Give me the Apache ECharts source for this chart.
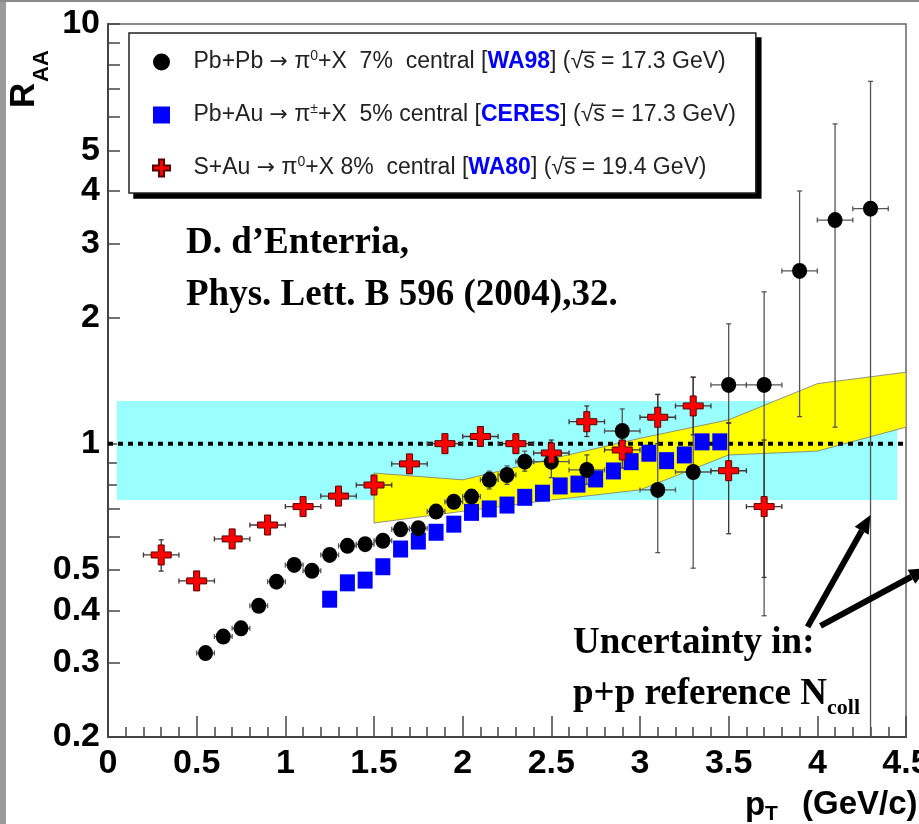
<!DOCTYPE html>
<html>
<head>
<meta charset="utf-8">
<script src="https://cdn.jsdelivr.net/npm/echarts@6/dist/echarts.min.js"></script>
<style>
  html, body { margin: 0; padding: 0; background: #fff; }
  #chart { width: 919px; height: 824px; }
</style>
</head>
<body>
<div id="chart"></div>
<script>
// WA98 Pb+Pb -> pi0 (black circles)
const wa98Pt    = [0.55, 0.65, 0.75, 0.85, 0.95, 1.05, 1.15, 1.25, 1.35, 1.45, 1.55, 1.65, 1.75, 1.85, 1.95, 2.05, 2.15, 2.25, 2.35, 2.5, 2.7, 2.9, 3.1, 3.3, 3.5, 3.7, 3.9, 4.1, 4.3];
const wa98Raa   = [0.317, 0.347, 0.363, 0.411, 0.469, 0.514, 0.498, 0.543, 0.571, 0.576, 0.587, 0.625, 0.629, 0.689, 0.727, 0.748, 0.82, 0.842, 0.906, 0.906, 0.866, 1.072, 0.776, 0.856, 1.38, 1.38, 2.58, 3.41, 3.63];
const wa98Lo    = [0.31, 0.34, 0.355, 0.40, 0.46, 0.50, 0.485, 0.53, 0.555, 0.56, 0.57, 0.61, 0.61, 0.67, 0.705, 0.725, 0.78, 0.80, 0.86, 0.83, 0.80, 0.95, 0.55, 0.505, 1.12, 0.389, 1.16, 1.095, 0.1];
const wa98Hi    = [0.325, 0.355, 0.372, 0.42, 0.48, 0.528, 0.512, 0.556, 0.587, 0.592, 0.604, 0.64, 0.648, 0.71, 0.75, 0.77, 0.86, 0.885, 0.96, 0.98, 0.94, 1.21, 1.31, 1.44, 1.93, 2.30, 4.0, 5.78, 7.3];
const wa98PtErr = [0.05, 0.05, 0.05, 0.05, 0.05, 0.05, 0.05, 0.05, 0.05, 0.05, 0.05, 0.05, 0.05, 0.05, 0.05, 0.05, 0.05, 0.05, 0.05, 0.1, 0.1, 0.1, 0.1, 0.1, 0.1, 0.1, 0.1, 0.1, 0.1];

// CERES Pb+Au -> pi+- (blue squares)
const ceresPt  = [1.25, 1.35, 1.45, 1.55, 1.65, 1.75, 1.85, 1.95, 2.05, 2.15, 2.25, 2.35, 2.45, 2.55, 2.65, 2.75, 2.85, 2.95, 3.05, 3.15, 3.25, 3.35, 3.45];
const ceresRaa = [0.426, 0.466, 0.473, 0.509, 0.561, 0.586, 0.615, 0.643, 0.686, 0.699, 0.714, 0.745, 0.762, 0.793, 0.801, 0.824, 0.861, 0.906, 0.949, 0.911, 0.94, 1.01, 1.01];

// WA80 S+Au -> pi0 (red crosses)
const wa80Pt    = [0.3, 0.5, 0.7, 0.9, 1.1, 1.3, 1.5, 1.7, 1.9, 2.1, 2.3, 2.5, 2.7, 2.9, 3.1, 3.3, 3.5, 3.7];
const wa80Raa   = [0.543, 0.471, 0.593, 0.640, 0.708, 0.750, 0.797, 0.895, 1.0, 1.04, 1.0, 0.95, 1.128, 0.966, 1.156, 1.23, 0.862, 0.708];
const wa80Lo    = [0.497, 0.45, 0.57, 0.615, 0.68, 0.72, 0.765, 0.86, 0.96, 1.0, 0.96, 0.88, 1.04, 0.875, 1.0, 1.05, 0.61, 0.48];
const wa80Hi    = [0.59, 0.49, 0.615, 0.665, 0.735, 0.78, 0.83, 0.93, 1.04, 1.08, 1.04, 1.02, 1.23, 1.06, 1.31, 1.44, 1.12, 1.02];
const wa80PtErr = [0.1, 0.1, 0.1, 0.1, 0.1, 0.1, 0.1, 0.1, 0.1, 0.1, 0.1, 0.1, 0.1, 0.1, 0.1, 0.1, 0.1, 0.1];

// p+p reference uncertainty (yellow) and Ncoll uncertainty (cyan)
const ppBandPt = [1.5, 2.0, 2.5, 3.0, 3.5, 4.0, 4.5];
const ppBandHi = [0.851, 0.82, 0.92, 1.03, 1.14, 1.39, 1.48];
const ppBandLo = [0.647, 0.69, 0.734, 0.776, 0.94, 0.96, 1.095];
const ncollPt  = [0.05, 4.45];
const ncollRaa = [0.734, 1.264];

// axis ticks
const yTickValues  = [0.2, 0.3, 0.4, 0.5, 0.6, 0.7, 0.8, 0.9, 1, 2, 3, 4, 5, 6, 7, 8, 9, 10];
const yLabelValues = [0.2, 0.3, 0.4, 0.5, 1, 2, 3, 4, 5, 10];

const legendText = {
  WA98:  'Pb+Pb {ar|\u2192} \u03c0{sup|0}+X  7%  central [{b|WA98}] (\u221as\u0305 = 17.3 GeV)',
  CERES: 'Pb+Au {ar|\u2192} \u03c0{sup|\u00b1}+X  5% central [{b|CERES}] (\u221as\u0305 = 17.3 GeV)',
  WA80:  'S+Au {ar|\u2192} \u03c0{sup|0}+X 8%  central [{b|WA80}] (\u221as\u0305 = 19.4 GeV)'
};

const SANS = '"Liberation Sans", Arial, sans-serif';
const SERIF = '"Liberation Serif", "Times New Roman", serif';
const crossPath = 'path://M7,0H13V7H20V13H13V20H7V13H0V7H7Z';
const squarePath = 'path://M0,0H10V10H0Z';

const zip = (...arrs) => arrs[0].map((_, i) => arrs.map(a => a[i]));

function errorBars(name, pts, color, z) {
  return {
    type: 'custom',
    name: name,
    silent: true,
    clip: true,
    z: z,
    data: pts,
    renderItem: (params, api) => {
      const x = api.value(0), y = api.value(1), dx = api.value(4);
      const top = api.coord([x, api.value(3)]);
      const bot = api.coord([x, api.value(2)]);
      const l = api.coord([x - dx, y]);
      const r = api.coord([x + dx, y]);
      const c = 2.5;
      const st = { stroke: color, lineWidth: 1.3 };
      return {
        type: 'group',
        children: [
          { type: 'line', shape: { x1: top[0], y1: top[1], x2: bot[0], y2: bot[1] }, style: st },
          { type: 'line', shape: { x1: top[0] - c, y1: top[1], x2: top[0] + c, y2: top[1] }, style: st },
          { type: 'line', shape: { x1: bot[0] - c, y1: bot[1], x2: bot[0] + c, y2: bot[1] }, style: st },
          { type: 'line', shape: { x1: l[0], y1: l[1], x2: r[0], y2: r[1] }, style: st },
          { type: 'line', shape: { x1: l[0], y1: l[1] - c, x2: l[0], y2: l[1] + c }, style: st },
          { type: 'line', shape: { x1: r[0], y1: r[1] - c, x2: r[0], y2: r[1] + c }, style: st }
        ]
      };
    }
  };
}

const chart = echarts.init(document.getElementById('chart'));

chart.setOption({
  animation: false,
  backgroundColor: '#fff',
  grid: {
    left: 108, right: 13, top: 24, bottom: 87,
    outerBoundsMode: 'none', containLabel: false,
    show: true, borderColor: '#666', borderWidth: 1.5, backgroundColor: 'transparent'
  },
  legend: {
    data: [{ name: 'WA98' }, { name: 'CERES', icon: squarePath }, { name: 'WA80' }],
    orient: 'vertical',
    left: 129, top: 33,
    padding: [16, 20, 12, 23],
    itemGap: 27,
    itemWidth: 54,
    itemHeight: 17,
    backgroundColor: '#fff',
    borderColor: '#222',
    borderWidth: 1.5,
    z: 10,
    selectedMode: false,
    formatter: name => legendText[name],
    textStyle: {
      fontFamily: SANS, fontSize: 23, color: '#222', lineHeight: 26,
      rich: {
        sup: { fontFamily: SANS, fontSize: 14, lineHeight: 14, verticalAlign: 'top', color: '#222' },
        ar: { fontFamily: '"DejaVu Sans", sans-serif', fontSize: 22, color: '#222' },
        b: { fontFamily: SANS, fontSize: 23, fontWeight: 'bold', color: '#0000ff' }
      }
    }
  },
  xAxis: {
    type: 'value', min: 0, max: 4.5, interval: 0.5,
    axisLine: { show: true, lineStyle: { color: '#444', width: 2 } },
    axisTick: { show: true, inside: true, length: 21, lineStyle: { color: '#444', width: 1.5 } },
    minorTick: { show: true, splitNumber: 5, length: 10, lineStyle: { color: '#444', width: 1.5 } },
    splitLine: { show: false },
    minorSplitLine: { show: false },
    axisLabel: { show: true, margin: 10, fontFamily: SANS, fontWeight: 'bold', fontSize: 34, color: '#000' }
  },
  yAxis: {
    type: 'log', logBase: 10, min: 0.2, max: 10,
    axisLine: { show: true, lineStyle: { color: '#444', width: 2 } },
    axisTick: { show: true, inside: true, length: 12, customValues: yTickValues, lineStyle: { color: '#444', width: 1.5 } },
    splitLine: { show: false },
    axisLabel: {
      show: true, customValues: yLabelValues, margin: 8,
      fontFamily: SANS, fontWeight: 'bold', fontSize: 34, color: '#000',
      formatter: v => String(v)
    }
  },
  series: [
    {
      type: 'custom', name: 'ncoll', silent: true, clip: true, z: 1,
      data: [[ncollPt[0], ncollRaa[0], ncollPt[1], ncollRaa[1]]],
      renderItem: (params, api) => {
        const a = api.coord([api.value(0), api.value(3)]);
        const b = api.coord([api.value(2), api.value(1)]);
        return { type: 'rect', shape: { x: a[0], y: a[1], width: b[0] - a[0], height: b[1] - a[1] }, style: { fill: '#99ffff' } };
      }
    },
    {
      type: 'custom', name: 'pp', silent: true, clip: true, z: 2,
      data: [[ppBandPt[0], ppBandLo[0]]],
      renderItem: (params, api) => {
        const up = ppBandPt.map((x, i) => api.coord([x, ppBandHi[i]]));
        const lo = ppBandPt.map((x, i) => api.coord([x, ppBandLo[i]])).reverse();
        return { type: 'polygon', shape: { points: up.concat(lo) }, style: { fill: '#ffff00', stroke: '#777', lineWidth: 0.8 } };
      }
    },
    {
      type: 'line', name: 'unity', silent: true, z: 3, symbol: 'none',
      data: [[0, 1], [4.5, 1]],
      lineStyle: { color: '#000', width: 4, type: [5, 5] }
    },
    errorBars('WA98 err', zip(wa98Pt, wa98Raa, wa98Lo, wa98Hi, wa98PtErr), '#555', 4),
    errorBars('WA80 err', zip(wa80Pt, wa80Raa, wa80Lo, wa80Hi, wa80PtErr), '#433', 4),
    {
      type: 'scatter', name: 'WA98', z: 6,
      symbol: 'circle', symbolSize: [15, 16],
      itemStyle: { color: '#000', opacity: 1 },
      data: zip(wa98Pt, wa98Raa)
    },
    {
      type: 'scatter', name: 'CERES', z: 5,
      symbol: 'rect', symbolSize: [15, 17],
      itemStyle: { color: '#0000ff', opacity: 1 },
      data: zip(ceresPt, ceresRaa)
    },
    {
      type: 'scatter', name: 'WA80', z: 7,
      symbol: crossPath, symbolSize: 20,
      itemStyle: { color: '#ff0000', borderColor: '#500', borderWidth: 1, opacity: 1 },
      data: zip(wa80Pt, wa80Raa)
    }
  ],
  graphic: [
    { type: 'rect', left: 0, top: 0, shape: { width: 6, height: 824 }, style: { fill: '#9a9a9a' }, silent: true },
    { type: 'rect', left: 0, top: 0, shape: { width: 919, height: 2 }, style: { fill: '#8a8a8a' }, silent: true },
    { type: 'text', x: 42, y: 108, rotation: Math.PI / 2, style: { text: 'R', font: 'bold 35px ' + SANS, fill: '#000', align: 'left', verticalAlign: 'bottom' } },
    { type: 'text', x: 53, y: 82, rotation: Math.PI / 2, style: { text: 'AA', font: 'bold 22px ' + SANS, fill: '#000', align: 'left', verticalAlign: 'bottom' } },
    { type: 'text', x: 745, y: 806, style: { text: 'p', font: 'bold 33px ' + SANS, fill: '#000', verticalAlign: 'middle' } },
    { type: 'text', x: 765, y: 814, style: { text: 'T', font: 'bold 21px ' + SANS, fill: '#000', verticalAlign: 'middle' } },
    { type: 'text', x: 802, y: 805, style: { text: '(GeV/c)', font: 'bold 33px ' + SANS, fill: '#000', verticalAlign: 'middle' } },
    { type: 'text', x: 186, y: 243, style: { text: 'D. d\u2019Enterria,', font: 'bold 37px ' + SERIF, fill: '#000', verticalAlign: 'middle' } },
    { type: 'text', x: 186, y: 295, style: { text: 'Phys. Lett. B 596 (2004),32.', font: 'bold 37px ' + SERIF, fill: '#000', verticalAlign: 'middle' } },
    { type: 'text', x: 573, y: 643, style: { text: 'Uncertainty in:', font: 'bold 37px ' + SERIF, fill: '#000', verticalAlign: 'middle' } },
    { type: 'text', x: 573, y: 694, style: { text: 'p+p reference N', font: 'bold 37px ' + SERIF, fill: '#000', verticalAlign: 'middle' } },
    { type: 'text', x: 827, y: 708, style: { text: 'coll', font: 'bold 22px ' + SERIF, fill: '#000', verticalAlign: 'middle' } }
  ]
});

// solid drop shadow behind the legend box
const lg = chart.getModel().getComponent('legend');
const lgRect = chart.getViewOfComponentModel(lg).group.getBoundingRect();
const lgPos = chart.getViewOfComponentModel(lg).group;
const arrowEls = [{
  type: 'rect', id: 'legendShadow', silent: true, z: 9,
  shape: { x: lgPos.x + lgRect.x + 5, y: lgPos.y + lgRect.y + 5, width: lgRect.width, height: lgRect.height },
  style: { fill: '#000' }
}];

// arrows pointing at the two uncertainty bands
const arrowTails = [[3.945, 0.366], [4.018, 0.368]];
const arrowHeads = [[4.30, 0.676], [4.62, 0.505]];
arrowTails.forEach((t, i) => {
  const p = chart.convertToPixel({ gridIndex: 0 }, t);
  const q = chart.convertToPixel({ gridIndex: 0 }, arrowHeads[i]);
  const dx = q[0] - p[0], dy = q[1] - p[1], len = Math.hypot(dx, dy);
  const ux = dx / len, uy = dy / len;
  const hl = 18, hw = 8;
  const bx = q[0] - ux * hl, by = q[1] - uy * hl;
  arrowEls.push({ type: 'line', id: 'arr' + i, silent: true, z: 50, shape: { x1: p[0], y1: p[1], x2: bx, y2: by }, style: { stroke: '#000', lineWidth: 6 } });
  arrowEls.push({ type: 'polygon', id: 'head' + i, silent: true, z: 50, shape: { points: [[q[0], q[1]], [bx - uy * hw, by + ux * hw], [bx + uy * hw, by - ux * hw]] }, style: { fill: '#000' } });
});
chart.setOption({ graphic: arrowEls });
</script>
</body>
</html>
